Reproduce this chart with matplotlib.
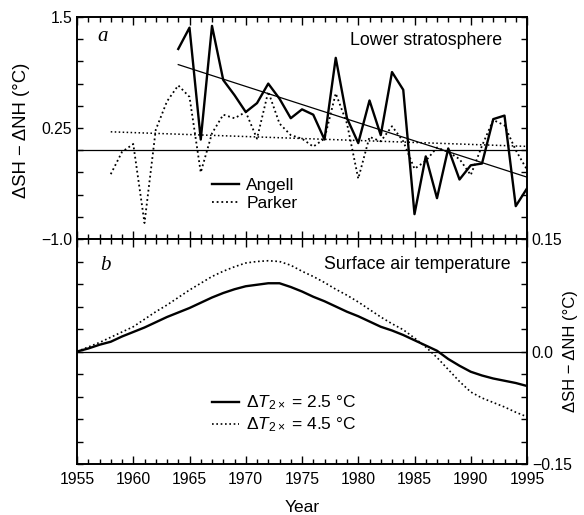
import numpy as np
import matplotlib
matplotlib.use("Agg")
import matplotlib.pyplot as plt
from matplotlib.ticker import FixedLocator, MultipleLocator

plt.rcParams['font.family'] = ['Liberation Sans', 'DejaVu Sans']
plt.rcParams['mathtext.fontset'] = 'custom'
plt.rcParams['mathtext.rm'] = 'Liberation Sans'
plt.rcParams['mathtext.it'] = 'Liberation Sans:italic'

# ---------------- data ----------------
angell_years = list(range(1964, 1996))
angell_vals = [1.14, 1.38, 0.12, 1.40, 0.79, 0.62, 0.43, 0.53, 0.75, 0.58,
               0.36, 0.46, 0.40, 0.12, 1.04, 0.36, 0.08, 0.56, 0.17, 0.88,
               0.68, -0.72, -0.07, -0.54, 0.02, -0.33, -0.17, -0.15, 0.35, 0.39,
               -0.63, -0.43]

parker_years = list(range(1958, 1996))
parker_vals = [-0.27, -0.02, 0.07, -0.82, 0.23, 0.55, 0.73, 0.60, -0.25, 0.19,
               0.40, 0.36, 0.43, 0.13, 0.66, 0.30, 0.17, 0.13, 0.04, 0.13,
               0.64, 0.30, -0.32, 0.15, 0.10, 0.27, 0.10, -0.21, -0.12, 0.03,
               -0.02, -0.10, -0.28, 0.05, 0.34, 0.28, 0.00, -0.22]

model_years = list(range(1955, 1996))
model_25 = [0.000, 0.004, 0.009, 0.013, 0.020, 0.026, 0.032, 0.039, 0.046, 0.052,
            0.058, 0.065, 0.072, 0.078, 0.083, 0.087, 0.089, 0.091, 0.091, 0.086,
            0.080, 0.073, 0.067, 0.060, 0.053, 0.047, 0.040, 0.033, 0.028, 0.022,
            0.015, 0.008, 0.001, -0.010, -0.019, -0.027, -0.032, -0.036, -0.039,
            -0.042, -0.046]
model_45 = [0.000, 0.006, 0.012, 0.019, 0.026, 0.033, 0.043, 0.053, 0.062, 0.072,
            0.082, 0.091, 0.100, 0.107, 0.113, 0.118, 0.120, 0.121, 0.120, 0.115,
            0.107, 0.100, 0.092, 0.083, 0.075, 0.066, 0.056, 0.046, 0.037, 0.029,
            0.018, 0.006, -0.008, -0.024, -0.040, -0.054, -0.062, -0.068, -0.074,
            -0.081, -0.087]

top_ytick_vals = [1.5, 0.25, -1.0]
top_ytick_labels = ['1.5', '0.25', '\u22121.0']
bot_ytick_vals = [0.15, 0.0, -0.15]
bot_ytick_labels = ['0.15', '0.0', '\u22120.15']
xtick_years = [1955, 1960, 1965, 1970, 1975, 1980, 1985, 1990, 1995]

# ---------------- figure ----------------
fig = plt.figure(figsize=(5.84, 5.15), dpi=100)
W, H = 584, 515
axL, axR = 77, 527
top_t, mid, bot_b = 17, 239, 464
ax1 = fig.add_axes([axL / W, (H - mid) / H, (axR - axL) / W, (mid - top_t) / H])
ax2 = fig.add_axes([axL / W, (H - bot_b) / H, (axR - axL) / W, (bot_b - mid) / H])

fs = 11.3
for ax in (ax1, ax2):
    ax.set_xlim(1955, 1995)
    ax.xaxis.set_major_locator(FixedLocator(xtick_years))
    ax.xaxis.set_minor_locator(MultipleLocator(1))
    ax.tick_params(axis='x', which='major', direction='in', length=6, width=1.0,
                   top=True, bottom=True)
    ax.tick_params(axis='x', which='minor', direction='in', length=3.5, width=1.0,
                   top=True, bottom=True)
    ax.tick_params(axis='y', which='both', direction='in', length=4.5, width=1.0,
                   left=True, right=True)
    for sp in ax.spines.values():
        sp.set_linewidth(1.4)

# ---- panel a ----
ax1.set_ylim(-1.0, 1.5)
yt = np.arange(-1.0, 1.5001, 0.25)
ax1.set_yticks(yt)
lab1 = dict(zip(top_ytick_vals, top_ytick_labels))
ax1.set_yticklabels([lab1.get(round(v, 2), '') for v in yt], fontsize=fs)
ax1.tick_params(axis='x', labelbottom=False)

ax1.axhline(0.0, color='black', lw=0.9)
ax1.plot(angell_years, angell_vals, color='black', lw=1.7, label='Angell')
ax1.plot(parker_years, parker_vals, color='black', lw=1.3, ls=(0, (1, 1.6)), label='Parker')

# linear trends
a_fit = np.polyfit(angell_years, angell_vals, 1)
p_fit = np.polyfit(parker_years, parker_vals, 1)
ay = np.array([angell_years[0], angell_years[-1]])
py = np.array([parker_years[0], parker_years[-1]])
ax1.plot(ay, np.polyval(a_fit, ay), color='black', lw=0.9)
ax1.plot(py, np.polyval(p_fit, py), color='black', lw=1.1, ls=(0, (1, 1.6)))

ax1.text(0.058, 0.91, 'a', transform=ax1.transAxes, fontsize=15, style='italic',
         family='Liberation Serif', ha='center', va='center')
ax1.text(0.945, 0.895, 'Lower stratosphere', transform=ax1.transAxes, fontsize=12.8,
         ha='right', va='center')
ax1.legend(loc='center left', bbox_to_anchor=(0.28, 0.2), frameon=False, fontsize=12.5,
           handlelength=1.6, handletextpad=0.4, labelspacing=0.2, borderpad=0)
fig.text(22 / W, (H - 130) / H, '\u0394SH \u2212 \u0394NH (\u00b0C)', fontsize=13.3,
         rotation=90, ha='center', va='center')

# ---- panel b ----
ax2.set_ylim(-0.15, 0.15)
yt2 = np.round(np.arange(-0.15, 0.15001, 0.03), 2)
ax2.set_yticks(yt2)
lab2 = dict(zip(bot_ytick_vals, bot_ytick_labels))
ax2.set_yticklabels([lab2.get(round(v, 2) + 0.0, '') for v in yt2], fontsize=fs)
ax2.tick_params(axis='y', labelleft=False, labelright=True)
ax2.set_xticklabels([str(y) for y in xtick_years], fontsize=fs)
ax2.tick_params(axis='x', pad=6)

ax2.axhline(0.0, color='black', lw=0.9)
ax2.plot(model_years, model_25, color='black', lw=1.7, label='$\\Delta T_{2\\times}$ = 2.5 \u00b0C')
ax2.plot(model_years, model_45, color='black', lw=1.2, ls=(0, (1, 1.6)),
         label='$\\Delta T_{2\\times}$ = 4.5 \u00b0C')

ax2.text(0.064, 0.88, 'b', transform=ax2.transAxes, fontsize=15, style='italic',
         family='Liberation Serif', ha='center', va='center')
ax2.text(0.963, 0.885, 'Surface air temperature', transform=ax2.transAxes, fontsize=12.8,
         ha='right', va='center')
ax2.legend(loc='center left', bbox_to_anchor=(0.28, 0.222), frameon=False, fontsize=12.5,
           handlelength=1.6, handletextpad=0.4, labelspacing=0.2, borderpad=0)
fig.text(571 / W, (H - 351) / H, '\u0394SH \u2212 \u0394NH (\u00b0C)', fontsize=12,
         rotation=90, ha='center', va='center')
fig.text((axL + axR) / 2 / W, (H - 507) / H, 'Year', fontsize=12.5, ha='center', va='center')

fig.savefig('out.png', dpi=100)
